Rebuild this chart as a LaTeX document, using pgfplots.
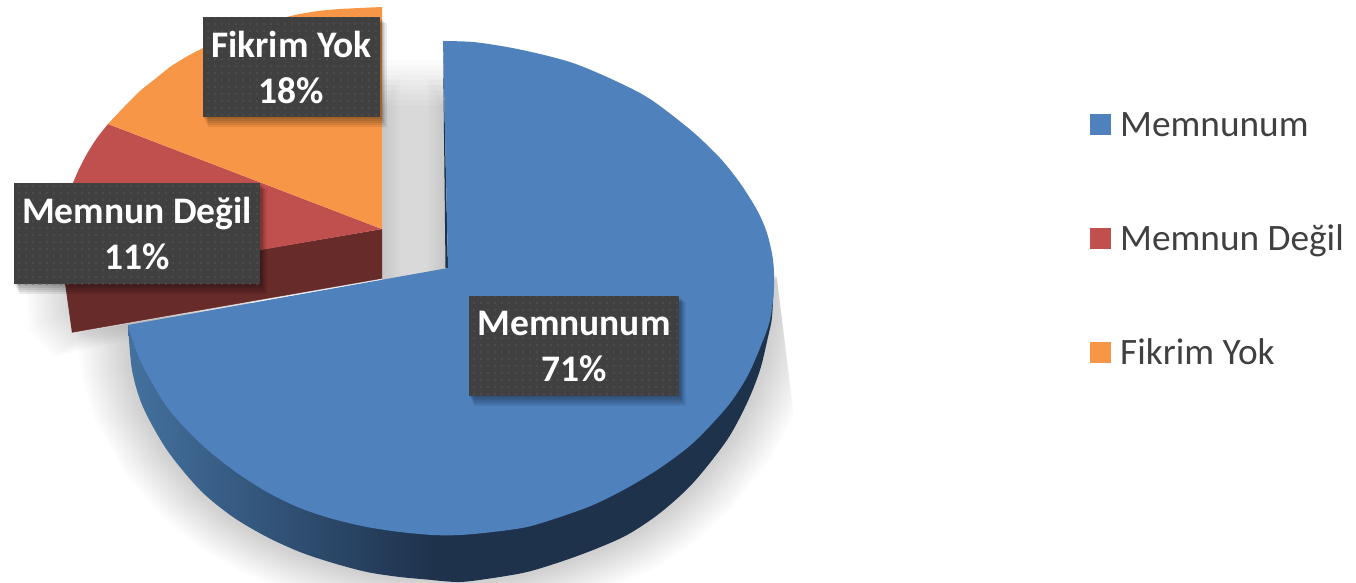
\documentclass[border=0pt]{standalone}
\usepackage{fontspec}
\setmainfont{Carlito}
\usepackage{pgfplots}
\usepackage{pgfplotstable}
\pgfplotsset{compat=1.18}
\usetikzlibrary{patterns.meta}

\definecolor{blueTop}{HTML}{4F81BD}
\definecolor{blueDark}{HTML}{1E324C}
\definecolor{blueMid}{HTML}{2B4A73}
\definecolor{blueLeft}{HTML}{44719F}
\definecolor{redTop}{HTML}{C0504D}
\definecolor{redDark}{HTML}{672B2A}
\definecolor{orangeTop}{HTML}{F79646}
\definecolor{boxGray}{HTML}{404040}
\definecolor{boxDot}{HTML}{585858}
\definecolor{legendText}{HTML}{404040}

% outlines, in picture pixels
\pgfplotstableread{
x y
774 280
772 317
768 337
760 370
747 403
727 440
693 483
660 513
627 535
593 550
560 562
527 572
493 578
460 582
433 580
400 577
367 572
333 563
300 552
267 537
233 517
200 490
167 450
143 407
132 370
128 335
135 320
774 280
}\blueShadow

\pgfplotstableread{
x y
90 210
68 270
72 310
92 328
250 300
250 200
90 210
}\leftShadow

\pgfplotstableread{
x y
0 0
1 0
1 1
0 1
0 0
}\unitBox

\newcommand{\boxShadow}[4]{%
  \fill[black,opacity=.08] (axis cs:#1+1,#2+2) rectangle (axis cs:#3+2,#4+2);
  \fill[black,opacity=.08] (axis cs:#1+2,#2+3) rectangle (axis cs:#3+3,#4+4);
  \fill[black,opacity=.08] (axis cs:#1+3,#2+4) rectangle (axis cs:#3+4,#4+6);
  \fill[black,opacity=.08] (axis cs:#1+4,#2+5) rectangle (axis cs:#3+5,#4+8);
  \fill[black,opacity=.08] (axis cs:#1+5,#2+6) rectangle (axis cs:#3+7,#4+10);
}
\tikzset{databox/.style={fill=boxGray,
    postaction={pattern={Dots[distance=6.5pt,radius=.9pt]},pattern color=boxDot},
    text=white,align=center,inner sep=0pt,
    font=\fontsize{37.5}{46}\selectfont\bfseries}}

\begin{document}
\begin{tikzpicture}
\path[use as bounding box] (0,0) rectangle (1356pt,582pt);
\begin{axis}[
    at={(0,0)},anchor=south west,
    scale only axis,width=1356pt,height=582pt,
    xmin=0,xmax=1356,ymin=0,ymax=582,y dir=reverse,
    hide axis,
    legend image code/.code={\fill[#1] (0pt,-10.5pt) rectangle (21pt,10.5pt);},
    legend cell align=left,
    legend style={at={(axis cs:1090,112)},anchor=north west,draw=none,fill=none,
      inner sep=0pt,row sep=87pt,text=legendText,
      font=\fontsize{37.3}{37}\selectfont,
      nodes={inner xsep=9pt,inner ysep=0pt}},
  ]

% legend swatches
\addlegendimage{fill=blueTop,draw=none}
\addlegendimage{fill=redTop,draw=none}
\addlegendimage{fill=orangeTop,draw=none}
\legend{Memnunum,Memnun Değil,Fikrim Yok}

% soft shadow under the big slice
\pgfplotsinvokeforeach{1.01,1.02,1.03,1.04,1.05,1.06,1.07,1.08,1.09,1.10,1.11,1.12,1.13,1.14,1.15,1.16}{
  \addplot[forget plot,fill=black,fill opacity=.0135,draw=none]
    table[x expr={447+(\thisrow{x}-447)*#1},y expr={330+(\thisrow{y}-330)*#1}] {\blueShadow};
}
% straight cut of that shadow on the right
\addplot[forget plot,fill=white,draw=none] coordinates {
  (775,262) (795,425) (850,425) (850,262) (775,262)};

% shadow under the exploded slices
\pgfplotsinvokeforeach{0,.5,1,1.5,2,2.5,3,3.5,4,4.5,5,5.5,6,6.5,7}{
  \addplot[forget plot,fill=black,fill opacity=.0135,draw=none]
    table[x expr={250+(\thisrow{x}-250)*(1+.035*#1)},y expr={270+(\thisrow{y}-270)*(1+.07*#1)}] {\leftShadow};
}

% shadow in the gap between the slices
\pgfplotsinvokeforeach{0,1,2,3,4,5,6,7,8,9}{
  \addplot[forget plot,fill=black,fill opacity=.0145,draw=none]
    table[x expr={382+\thisrow{x}*64},y expr={285-\thisrow{y}*(180+#1*5)}] {\unitBox};
}
\pgfplotsinvokeforeach{3,6,9,12,15,18}{
  \addplot[forget plot,fill=black,fill opacity=.015,draw=none]
    table[x expr={382+\thisrow{x}*#1},y expr={285-\thisrow{y}*(170+#1*2)}] {\unitBox};
  \addplot[forget plot,fill=black,fill opacity=.015,draw=none]
    table[x expr={446-\thisrow{x}*#1},y expr={285-\thisrow{y}*(170+#1*2)}] {\unitBox};
}

% Memnun Degil side and top
\addplot[forget plot,fill=redDark,draw=none] coordinates {
  (382,229) (382,279) (72,333) (65,283) (382,229)};
\addplot[forget plot,smooth,fill=redTop,draw=none] coordinates {
  (108,124) (97,138) (88,152) (80,167) (73,183) (68,200) (65,230) (64,284)}
  -- (axis cs:382,229) -- cycle;
% Fikrim Yok top
\addplot[forget plot,smooth,fill=orangeTop,draw=none] coordinates {
  (382,7) (360,8) (340,9) (318,11) (295,15) (272,21) (250,27) (226,37) (203,48)
  (186,57) (170,67) (155,79) (140,91) (124,107) (108,124)}
  -- (axis cs:382,229) -- cycle;

% Memnunum side
\addplot[forget plot,smooth,left color=blueLeft,middle color=blueMid,right color=blueDark,draw=none] coordinates {
  (128,325) (132,370) (143,407) (167,450) (200,490) (233,517) (267,537) (300,552) (333,563)
  (367,572) (400,577) (433,580)}
  -- (axis cs:433,400) -- cycle;
\addplot[forget plot,smooth,fill=blueDark,draw=none] coordinates {
  (432,580) (460,582) (493,578) (527,572) (560,562) (593,550) (627,535) (660,513)
  (693,483) (727,440) (747,403) (760,370) (768,337) (772,317) (774,280)}
  -- (axis cs:432,400) -- cycle;
% dark sliver left of the cut
\addplot[forget plot,fill=blueDark,draw=none] coordinates {(443,45) (445.5,268) (448,268) (443,45)};
% Memnunum top
\addplot[forget plot,smooth,fill=blueTop,draw=none] coordinates {
  (443,41) (473,42) (507,47) (540,54) (573,63) (607,77) (640,93) (660,106) (693,132) (720,158) (740,183)
  (757,210) (767,233) (773,260) (774,287) (770,320) (760,348) (747,377) (727,407) (693,443) (660,468) (627,488)
  (593,505) (560,517) (527,527) (493,532) (460,535) (433,535) (400,532) (367,527) (333,519)
  (300,508) (267,492) (233,470) (200,443) (167,407) (140,360) (128,325)}
  -- (axis cs:448,268) -- cycle;
% pale edge along the cut
\addplot[forget plot,color=white,opacity=.6,line width=.8pt] coordinates {(72,333) (382,279)};

% data labels
\boxShadow{203}{17}{380}{117}
\boxShadow{14}{183}{260}{284}
\boxShadow{469}{296}{679}{396}
\node[databox,minimum width=177pt,minimum height=100pt] at (axis cs:291.5,67) {\raisebox{-2pt}{Fikrim Yok}\\\raisebox{-2pt}{18\%}};
\node[databox,minimum width=246pt,minimum height=101pt] at (axis cs:137,233.5) {\raisebox{-2pt}{Memnun Değil}\\\raisebox{-2pt}{11\%}};
\node[databox,minimum width=210pt,minimum height=100pt] at (axis cs:574,346) {\raisebox{-2pt}{Memnunum}\\\raisebox{-2pt}{71\%}};
\end{axis}
\end{tikzpicture}
\end{document}
